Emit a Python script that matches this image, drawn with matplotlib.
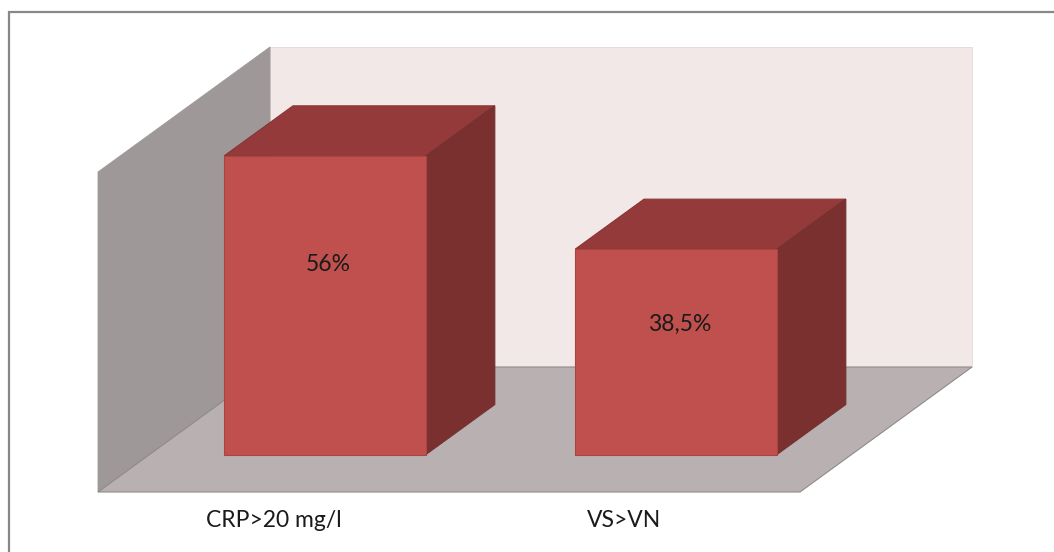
import matplotlib
matplotlib.use("Agg")
import matplotlib.pyplot as plt
from matplotlib.patches import Polygon, Rectangle

# data
categories = ["CRP>20 mg/l", "VS>VN"]
values = [56, 38.5]
value_labels = ["56%", "38,5%"]
y_max = 60

# look of the 3d box
W, H, DPI = 1054, 552, 100
PX_PER_CAT = 351.0      # horizontal pixels per category slot
PX_PER_PCT = 320.0 / y_max
ORIGIN = (98, 492)      # front-left corner of the floor, in pixels
DEPTH_PX = (172, 125)   # oblique offset of the full depth
BAR_WIDTH = 0.575
BAR_Z = (0.3, 0.7)

DX = DEPTH_PX[0] / PX_PER_CAT
DY = DEPTH_PX[1] / PX_PER_PCT

C_FRONT = "#C0504D"
C_TOP = "#943A3A"
C_SIDE = "#7B3030"
C_EDGE = "#A84442"
C_BACK = "#F3E8E8"
C_LEFT = "#9E9898"
C_FLOOR = "#B9B1B1"
C_WALL_EDGE = "#8E8A8A"

plt.rcParams["font.family"] = ["Lato", "DejaVu Sans"]


def proj(c, v, z):
    return (c + z * DX, v + z * DY)


def face(ax, pts, color, edge, lw=0.8, zorder=1):
    ax.add_patch(Polygon([proj(*p) for p in pts], closed=True, facecolor=color,
                         edgecolor=edge, linewidth=lw, zorder=zorder, joinstyle="miter"))


fig = plt.figure(figsize=(W / DPI, H / DPI), dpi=DPI)
ax = fig.add_axes([0, 0, 1, 1])
ax.set_xlim(-ORIGIN[0] / PX_PER_CAT - 0.5, (W - ORIGIN[0]) / PX_PER_CAT - 0.5)
ax.set_ylim((ORIGIN[1] - H) / PX_PER_PCT, ORIGIN[1] / PX_PER_PCT)
ax.axis("off")

# outer frame of the chart area
fig.patches.append(Rectangle((9 / W, -0.2), 1.2, 1.2 - 12 / H, transform=fig.transFigure,
                             fill=False, edgecolor="#888888", linewidth=1.6))

c0, c1 = -0.5, len(categories) - 0.5

# walls and floor
face(ax, [(c0, 0, 1), (c0, y_max, 1), (c1, y_max, 1), (c1, 0, 1)], C_BACK, "#E4D8D8", lw=0.6)
face(ax, [(c0, 0, 0), (c0, y_max, 0), (c0, y_max, 1), (c0, 0, 1)], C_LEFT, C_LEFT, lw=0.6)
face(ax, [(c0, 0, 0), (c1, 0, 0), (c1, 0, 1), (c0, 0, 1)], C_FLOOR, C_WALL_EDGE, lw=0.8, zorder=2)

# bars
z0, z1 = BAR_Z
for i, v in enumerate(values):
    l, r = i - BAR_WIDTH / 2, i + BAR_WIDTH / 2
    face(ax, [(l, 0, z0), (r, 0, z0), (r, v, z0), (l, v, z0)], C_FRONT, C_EDGE, zorder=5)
    face(ax, [(l, v, z0), (r, v, z0), (r, v, z1), (l, v, z1)], C_TOP, "#8A3434", zorder=4)
    face(ax, [(r, 0, z0), (r, 0, z1), (r, v, z1), (r, v, z0)], C_SIDE, "#733030", zorder=4)
    lx, ly = proj(i, 0.635 * v, z0)
    ax.text(lx + 0.01, ly, value_labels[i], ha="center", va="center", fontsize=16.5,
            color="#1a1a1a", zorder=6)

# category labels under the floor
for i, name in enumerate(categories):
    ax.text(i, -5.3, name, ha="center", va="center", fontsize=16.5, color="#1a1a1a")

fig.savefig("out.png", dpi=DPI)
